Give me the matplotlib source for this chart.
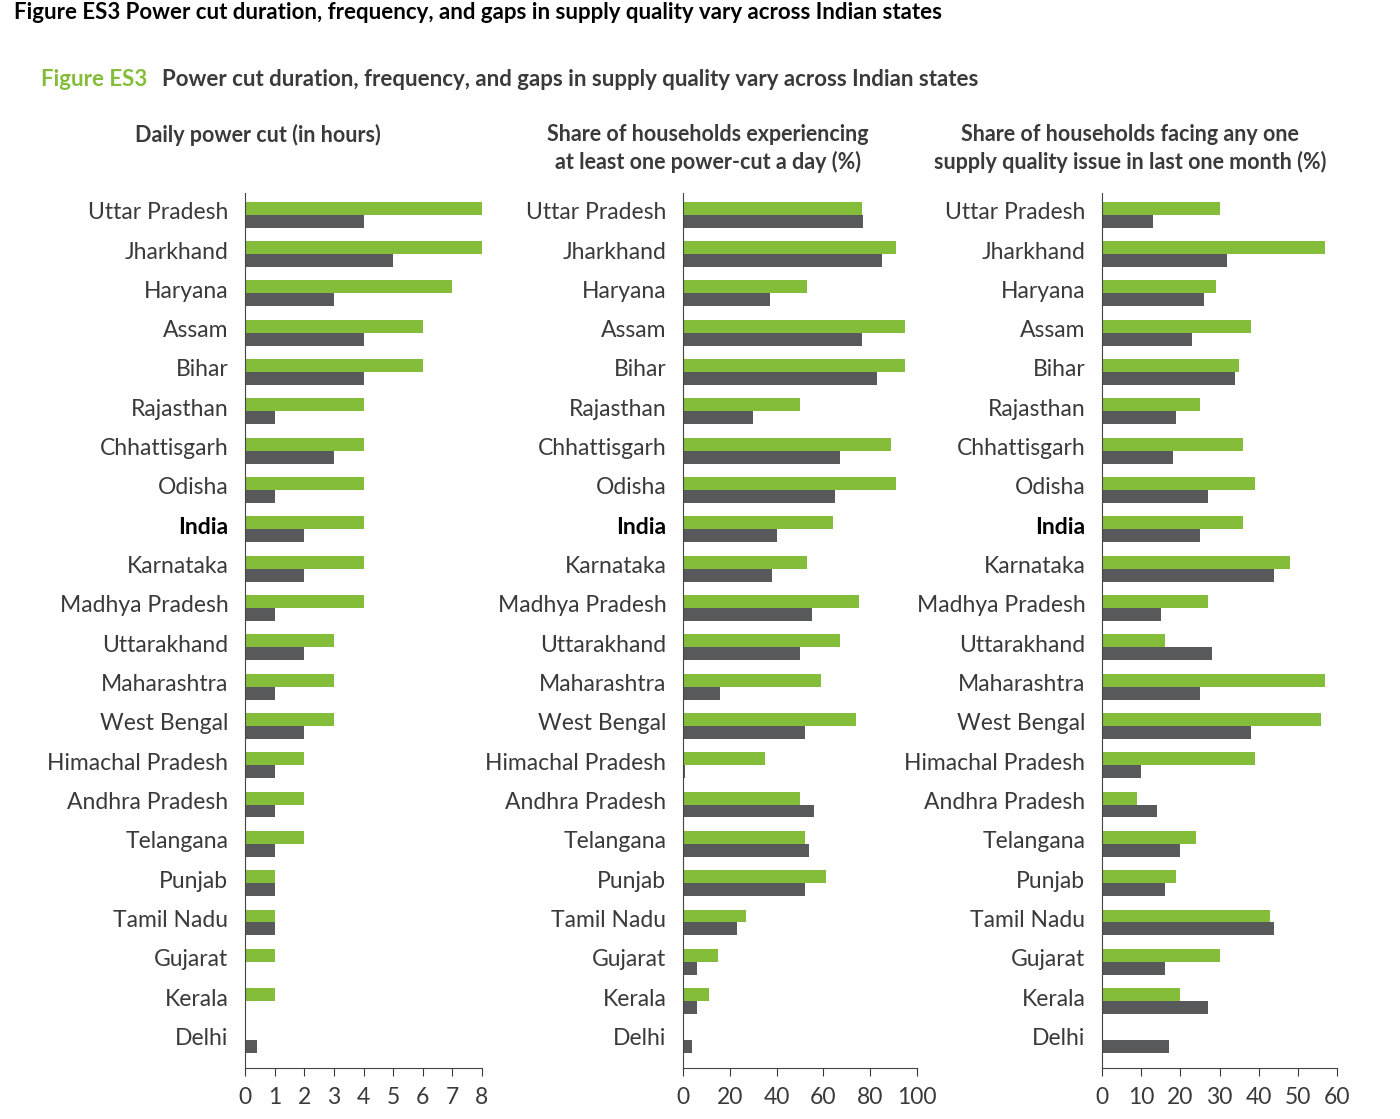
import matplotlib.pyplot as plt
import numpy as np

plt.rcParams['font.family'] = ['Lato', 'DejaVu Sans']

states = ["Uttar Pradesh","Jharkhand","Haryana","Assam","Bihar","Rajasthan","Chhattisgarh","Odisha","India",
          "Karnataka","Madhya Pradesh","Uttarakhand","Maharashtra","West Bengal","Himachal Pradesh","Andhra Pradesh",
          "Telangana","Punjab","Tamil Nadu","Gujarat","Kerala","Delhi"]
hours_green = [8,8,7,6,6,4,4,4,4,4,4,3,3,3,2,2,2,1,1,1,1,0]
hours_grey = [4,5,3,4,4,1,3,1,2,2,1,2,1,2,1,1,1,1,1,0,0,0.4]
share_green = [76.5,91,53,95,95,50,89,91,64,53,75,67,59,74,35,50,52,61,27,15,11,0]
share_grey = [77,85,37,76.5,83,30,67,65,40,38,55,50,16,52,1,56,54,52,23,6,6,4]
qual_green = [30,57,29,38,35,25,36,39,36,48,27,16,57,56,39,9,24,19,43,30,20,0]
qual_grey = [13,32,26,23,34,19,18,27,25,44,15,28,25,38,10,14,20,16,44,16,27,17]

titles = ["Daily power cut (in hours)",
          "Share of households experiencing\nat least one power-cut a day (%)",
          "Share of households facing any one\nsupply quality issue in last one month (%)"]
title_x = [258, 708, 1130]
xlims = [(0, 8), (0, 100), (0, 60)]
xticks = [range(0, 9), range(0, 101, 20), range(0, 61, 10)]
GREEN = "#84bd3a"; GREY = "#58595b"; TXT = "#3a3a3a"

W, H = 1400, 1119
fig = plt.figure(figsize=(14, 11.19), dpi=100)
fig.patch.set_facecolor("white")
fig.text(14/W, 1-2/H, "Figure ES3 Power cut duration, frequency, and gaps in supply quality vary across Indian states",
         fontsize=16, fontweight="bold", va="top", ha="left")
fig.text(41/W, 1-79/H, "Figure ES3", color=GREEN, fontsize=16, fontweight="bold", va="center")
fig.text(162/W, 1-79/H, "Power cut duration, frequency, and gaps in supply quality vary across Indian states",
         color=TXT, fontsize=16, fontweight="bold", va="center")
for i in range(3):
    fig.text(title_x[i]/W, 1-124/H, titles[i], fontsize=15.5, fontweight="bold", color=TXT,
             ha="center", va="top", linespacing=1.35)

lefts = [245, 683, 1102]
rights = [482, 917, 1337]
data = [(hours_green, hours_grey), (share_green, share_grey), (qual_green, qual_grey)]
y = np.arange(len(states))
h = 0.33
for i in range(3):
    ax = fig.add_axes([lefts[i]/W, 1-1068/H, (rights[i]-lefts[i])/W, (1068-193)/H])
    g, k = data[i]
    ax.barh(y - h/2, g, height=h, color=GREEN)
    ax.barh(y + h/2, k, height=h, color=GREY)
    ax.set_ylim(len(states) - 0.3, -0.55)
    ax.set_xlim(*xlims[i])
    ax.set_xticks(list(xticks[i]))
    ax.set_yticks(y - 0.1)
    ax.set_yticklabels(states)
    for lab in ax.get_yticklabels():
        lab.set_color(TXT)
        if lab.get_text() == "India":
            lab.set_fontweight("bold")
            lab.set_color("black")
    ax.tick_params(axis="y", length=0, labelsize=16.5, pad=12)
    ax.tick_params(axis="x", labelsize=16.5, colors=TXT, length=6, direction="out", pad=8)
    for s in ["top", "right"]:
        ax.spines[s].set_visible(False)
    ax.spines["left"].set_color("#444444")
    ax.spines["bottom"].set_color("#444444")

fig.savefig("out.png", dpi=100)
